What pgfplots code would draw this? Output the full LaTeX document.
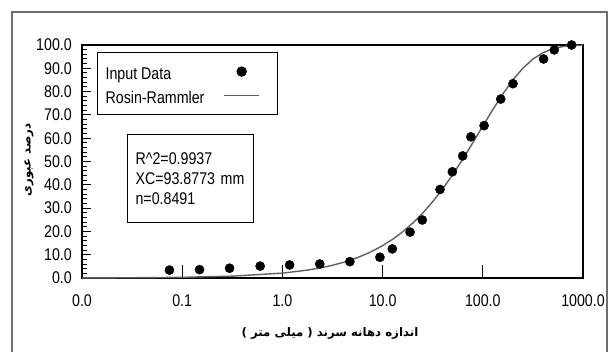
\documentclass[border=0pt]{standalone}
\usepackage{fontspec}
\setmainfont{Liberation Sans}[FakeStretch=0.84]
\newfontfamily\arabicfont[Script=Arabic]{DejaVu Sans}
\usepackage{pgfplots}
\pgfplotsset{compat=1.18}
\TeXXeTstate=1
\definecolor{curvegray}{RGB}{95,95,95}
\definecolor{framegray}{RGB}{110,110,110}
\newcommand\tf{\fontsize{17}{20}\selectfont}
\newcommand\af{\arabicfont\bfseries\fontsize{11.8}{14}\selectfont}
\pgfplotsset{
  dotlegend/.style={legend image code/.code={\path[draw=none] (0bp,0bp) -- (45bp,0bp); \draw[##1, only marks] plot coordinates {(17.5bp,0bp)};}},
  linelegend/.style={legend image code/.code={\path[draw=none] (0bp,0bp) -- (45bp,0bp); \draw[##1] (0bp,0bp) -- (35bp,0bp);}},
}
\begin{document}
\begin{tikzpicture}[x=1bp,y=1bp]
\useasboundingbox (0,0) rectangle (609,351);
\draw[framegray, line width=1.5bp] (12,-5) -- (12,339) -- (607,339) -- (607,-5);
\begin{axis}[
  at={(82bp,73bp)}, anchor=south west,
  scale only axis, width=501bp, height=233bp,
  xmode=log, log basis x=10,
  xmin=0.01, xmax=1000, ymin=0, ymax=100,
  xtick={0.01,0.1,1,10,100,1000},
  xticklabels={0.0,0.1,1.0,10.0,100.0,1000.0},
  ytick={0,10,...,100},
  minor y tick num=4,
  tick pos=left,
  tick align=inside,
  /pgf/number format/assume math mode=true,
  yticklabel style={/pgf/number format/fixed, /pgf/number format/fixed zerofill, /pgf/number format/precision=1, xshift=-10bp},
  xticklabel style={yshift=-16bp},
  ticklabel style={font=\tf, inner sep=0pt},
  axis line style={line width=1.2bp, black},
  tick style={line width=1bp, black},
  major x tick style={/pgfplots/major tick length=13bp},
  major y tick style={/pgfplots/major tick length=9bp},
  minor tick length=5.5bp,
  clip=false,
  legend plot pos=right,
  legend style={at={(0.030,0.970)}, anchor=north west, draw=black, line width=1.2bp,
    inner xsep=8bp, inner ysep=10bp, row sep=6bp, column sep=19bp, font=\tf,
    nodes={inner sep=0pt, text height=17bp, text depth=1bp}},
  legend cell align=left,
]
\addplot[only marks, mark=*, mark size=4.6bp, black, dotlegend]
  coordinates {
  (0.0746,3.4) (0.149,3.6) (0.297,4.2) (0.60,5.1) (1.18,5.6) (2.36,6.0)
  (4.71,7.0) (9.4,8.9) (12.5,12.5) (18.8,19.7) (24.9,24.9) (37.4,38.0)
  (49.7,45.6) (63,52.4) (76,60.6) (103,65.4) (151,76.8) (200,83.4)
  (404,94.0) (517,97.9) (770,100)
  };
\addlegendentry{Input Data}
\addplot[curvegray, line width=1.4bp, mark=none, linelegend]
  coordinates {
  (0.01,0.04) (0.0316,0.11) (0.1,0.30) (0.316,0.79) (1,2.09) (1.778,3.39)
  (2.371,4.30) (3.162,5.46) (4.217,6.92) (5.623,8.75) (7.499,11.04) (10,13.87)
  (12.59,16.61) (15.85,19.81) (19.95,23.55) (25.12,27.85) (31.62,32.77)
  (39.81,38.29) (50.12,44.39) (63.10,51.02) (79.43,58.01) (100,65.18)
  (125.9,72.28) (158.5,78.99) (199.5,85.00) (251.2,90.04) (316.2,93.95)
  (398.1,96.70) (501.2,98.42) (631.0,99.35) (794.3,99.78) (1000,99.94)
  };
\addlegendentry{Rosin-Rammler}
\node[draw=black, line width=1.2bp, anchor=north west, inner xsep=8bp, inner ysep=0pt,
  text width=110bp, minimum height=88bp, align=left, font=\tf]
  at (rel axis cs:0.0898,0.618) {R\textasciicircum 2=0.9937\\XC=93.8773 mm\\n=0.8491};
\end{axis}
\node[rotate=90, font=\af] at (29,191) {\beginR درصد عبوری\endR};
\node[font=\af] at (330,18) {\beginR اندازه دهانه سرند ( میلی متر )\endR};
\end{tikzpicture}
\end{document}
